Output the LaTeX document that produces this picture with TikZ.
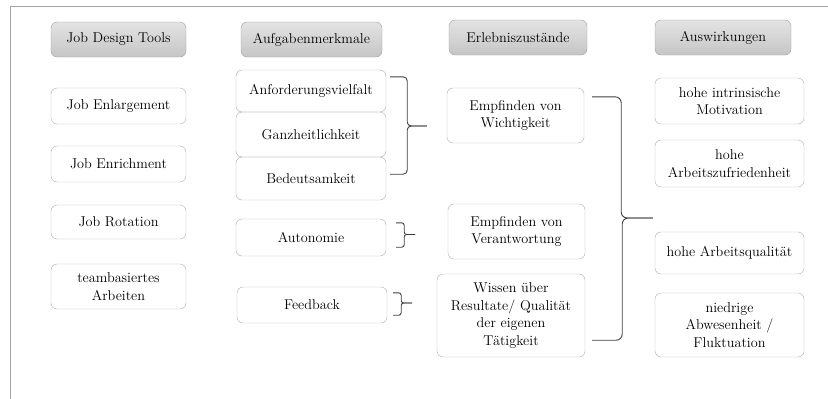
\documentclass[tikz,border=0pt]{standalone}
\usetikzlibrary{calc}

\begin{document}
\begin{tikzpicture}[x=1pt,y=-1pt,
  font=\fontsize{14.2}{17.5}\selectfont,
  box/.style={draw=gray!65,rounded corners=6pt,align=center,inner sep=2pt},
  head/.style={box,draw=gray!75,top color=gray!22,bottom color=gray!45},
  brace/.style={draw=black!75,line width=0.9pt,rounded corners=4pt}]
  \useasboundingbox (0,0) rectangle (828,399);
  \draw[gray!70] (10,399) -- (10,6) -- (828,6);

  % headers
  \node[head,minimum width=135,minimum height=35] (jdt)  at (118.5,39.5) {Job Design Tools};
  \node[head,minimum width=141,minimum height=35] (afm)  at (311.5,39.5) {Aufgabenmerkmale};
  \node[head,minimum width=138,minimum height=35] (erl)  at (518,37.5)   {Erlebniszustände};
  \node[head,minimum width=136,minimum height=35] (ausw) at (723,37.5)   {Auswirkungen};

  % job design tools
  \node[box,minimum width=135,minimum height=36] (enl)  at (118.5,106)   {Job Enlargement};
  \node[box,minimum width=135,minimum height=36] (enr)  at (118.5,164)   {Job Enrichment};
  \node[box,minimum width=135,minimum height=34] (rot)  at (118.5,222)   {Job Rotation};
  \node[box,minimum width=135,minimum height=45] (team) at (118.5,286.5) {teambasiertes\\Arbeiten};

  % aufgabenmerkmale
  \node[box,minimum width=150,minimum height=42] (anf)  at (311,91)    {Anforderungsvielfalt};
  \node[box,minimum width=150,minimum height=45] (ganz) at (311,134.5) {Ganzheitlichkeit};
  \node[box,minimum width=150,minimum height=43] (bed)  at (311,178.5) {Bedeutsamkeit};
  \node[box,minimum width=150,minimum height=37] (auto) at (311,237.5) {Autonomie};
  \node[box,minimum width=150,minimum height=36] (feed) at (312,305)   {Feedback};

  % erlebniszustaende
  \node[box,minimum width=137,minimum height=55] (wicht)  at (515.5,115.5) {Empfinden von\\Wichtigkeit};
  \node[box,minimum width=137,minimum height=55] (verant) at (516.5,231.5) {Empfinden von\\Verantwortung};
  \node[box,minimum width=148,minimum height=83] (wissen) at (511,315.5)   {Wissen über\\Resultate/ Qualität\\der eigenen\\Tätigkeit};

  % auswirkungen
  \node[box,minimum width=149,minimum height=46] (moti) at (729.5,101)   {hohe intrinsische\\Motivation};
  \node[box,minimum width=149,minimum height=47] (zufr) at (729.5,163.5) {hohe\\Arbeitszufriedenheit};
  \node[box,minimum width=149,minimum height=42] (qual) at (729.5,253)   {hohe Arbeitsqualität};
  \node[box,minimum width=149,minimum height=64] (fluk) at (729.5,325)   {niedrige\\Abwesenheit /\\Fluktuation};

  % braces
  \coordinate (b1top) at ($(anf.north east)+(4,7)$);
  \coordinate (b1bot) at ($(bed.south east)+(4,-26)$);
  \coordinate (b1tip) at ($(wicht.west)+(-20,10.5)$);
  \draw[brace] (b1top) -- ++(17,0) |- (b1tip);
  \draw[brace] (b1bot) -- ++(17,0) |- (b1tip);

  \coordinate (b2top) at ($(auto.north east)+(10,4)$);
  \coordinate (b2bot) at ($(auto.south east)+(10,-9)$);
  \coordinate (b2tip) at ($(auto.east)+(29,-3)$);
  \draw[brace,rounded corners=2.5pt] (b2top) -- ++(8,0) |- (b2tip);
  \draw[brace,rounded corners=2.5pt] (b2bot) -- ++(8,0) |- (b2tip);

  \coordinate (b3top) at ($(feed.north east)+(6,6)$);
  \coordinate (b3bot) at ($(feed.south east)+(6,-8)$);
  \coordinate (b3tip) at ($(feed.east)+(25,-2)$);
  \draw[brace,rounded corners=2.5pt] (b3top) -- ++(8,0) |- (b3tip);
  \draw[brace,rounded corners=2.5pt] (b3bot) -- ++(8,0) |- (b3tip);

  \coordinate (b4top) at ($(wicht.north east)+(8,9)$);
  \coordinate (b4bot) at ($(wissen.south east)+(7,-17)$);
  \coordinate (b4tip) at ($(qual.west)+(-2,-35)$);
  \draw[brace,rounded corners=6pt] (b4top) -- ++(29,0) |- (b4tip);
  \draw[brace,rounded corners=6pt] (b4bot) -- ++(30,0) |- (b4tip);
\end{tikzpicture}
\end{document}
